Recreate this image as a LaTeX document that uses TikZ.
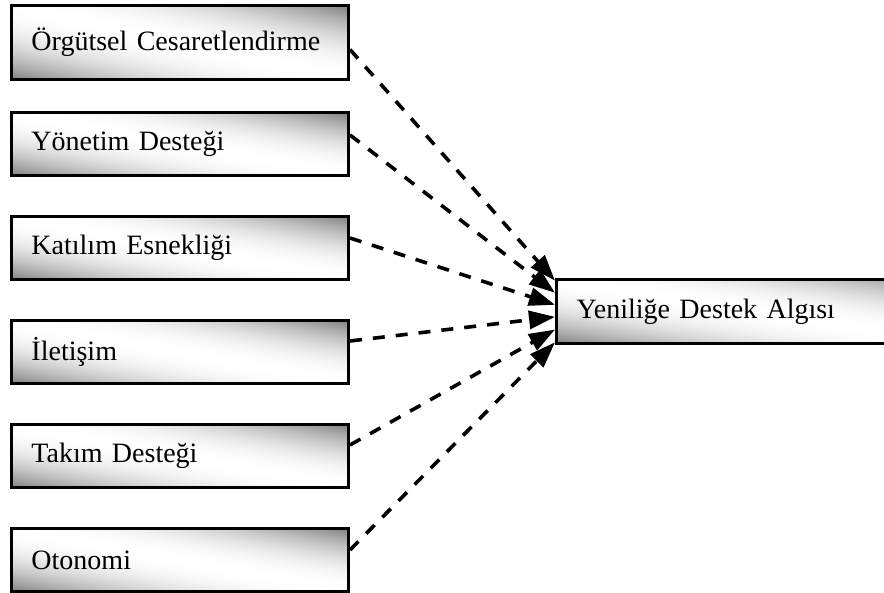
\documentclass[tikz,border=0pt]{standalone}
\usepackage{fontspec}
\setmainfont{Liberation Serif}
\usetikzlibrary{arrows.meta}
\usetikzlibrary{positioning}
\usetikzlibrary{calc}
% gray in the top right and bottom left corners, white along the other diagonal
\pgfdeclarefunctionalshading{kutu}{\pgfpoint{0bp}{0bp}}{\pgfpoint{100bp}{100bp}}{}{
  add 100 sub 50 div dup mul 0.5 mul 1 exch sub dup dup}
\tikzstyle{box}=[draw, line width=1.5pt, minimum height=31.5pt, inner xsep=10pt,
text width=148.5pt, align=left, font=\fontsize{14pt}{17pt}\selectfont,
shading=kutu]
\tikzstyle{hedef}=[box, text width=180pt, minimum height=32pt]
\tikzstyle{myarrow}=[-{Triangle[length=13pt, width=9pt]}, line width=1.8pt,
dash pattern=on 6pt off 5.5pt]

\begin{document}
\begin{tikzpicture}[node distance=19pt]

    \useasboundingbox (0,0) rectangle (442pt,-296.5pt);

    \node[box, minimum height=37pt, anchor=north west] (O1) at (5pt,-2pt) {Örgütsel Cesaretlendirme};
    \node[box, below=15pt of O1] (O2) {Yönetim Desteği};
    \node[box, below=of O2] (O3) {Katılım Esnekliği};
    \node[box, below=of O3] (O4) {İletişim};
    \node[box, below=of O4] (O5) {Takım Desteği};
    \node[box, below=of O5] (O6) {Otonomi};

    \node[hedef, anchor=north west] (Y) at (277.5pt,-139pt) {Yeniliğe Destek Algısı};

    \draw[myarrow] ([yshift=-3.5pt]O1.east) -- ($(Y.north west)!0.04!(Y.south west)$) ;
    \draw[myarrow] ([yshift=4.5pt]O2.east) -- ($(Y.north west)!0.22!(Y.south west)$) ;
    \draw[myarrow] ([yshift=5pt]O3.east) -- ($(Y.north west)!0.4!(Y.south west)$) ;
    \draw[myarrow] ([yshift=5.5pt]O4.east) -- ($(Y.north west)!0.58!(Y.south west)$) ;
    \draw[myarrow] ([yshift=5.5pt]O5.east) -- ($(Y.north west)!0.77!(Y.south west)$) ;
    \draw[myarrow] ([yshift=5pt]O6.east) -- ($(Y.north west)!0.96!(Y.south west)$) ;

\end{tikzpicture}
\end{document}
